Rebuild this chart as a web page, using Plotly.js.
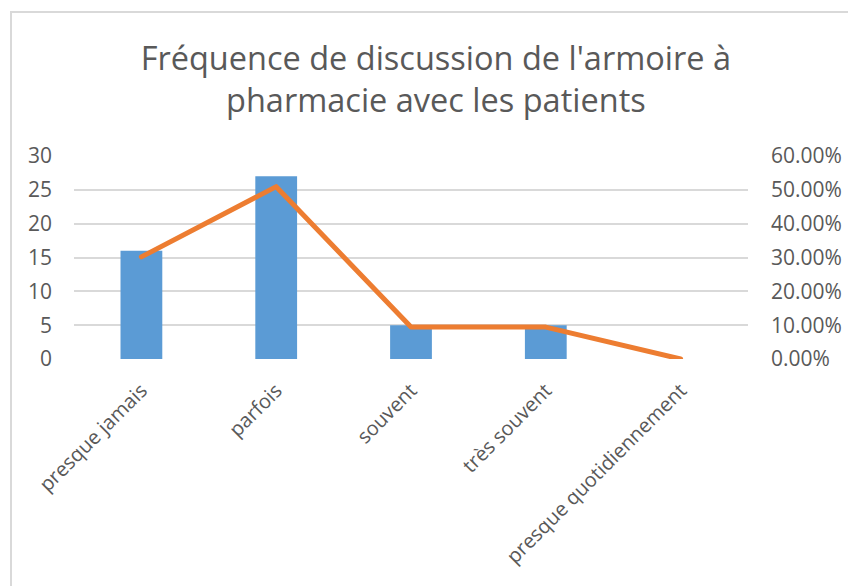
<!DOCTYPE html>
<html>
<head>
<meta charset="utf-8">
<script src="https://cdn.plot.ly/plotly-3.0.1.min.js"></script>
<style>
  html, body { margin: 0; padding: 0; background: #fff; overflow: hidden; }
  #chart { width: 848px; height: 586px; position: absolute; left: 0; top: 0; }
  #frame { position: absolute; left: 10px; top: 11px; width: 900px; height: 700px;
           border: 2px solid #d9d9d9; pointer-events: none; box-sizing: border-box; }
</style>
</head>
<body>
<div id="chart"></div>
<div id="frame"></div>
<script>
const categories = ["presque jamais", "parfois", "souvent", "très souvent", "presque quotidiennement"];
const counts = [16, 27, 5, 5, 0];
const percentages = [0.3019, 0.5094, 0.0943, 0.0943, 0.0];
const titleText = "Fréquence de discussion de l'armoire à<br>pharmacie avec les patients";

const textColor = "#595959";
const fontFamily = "'Open Sans', 'Noto Sans', sans-serif";

const data = [
  {
    type: "bar",
    x: categories,
    y: counts,
    marker: { color: "#5B9BD5" },
    yaxis: "y",
    hoverinfo: "x+y"
  },
  {
    type: "scatter",
    mode: "lines",
    x: categories,
    y: percentages,
    line: { color: "#ED7D31", width: 5 },
    yaxis: "y2"
  }
];

const layout = {
  width: 848,
  height: 586,
  paper_bgcolor: "#ffffff",
  plot_bgcolor: "#ffffff",
  showlegend: false,
  bargap: 0.69,
  margin: { l: 74, r: 100, t: 156, b: 227 },
  font: { family: fontFamily, color: textColor },
  title: {
    text: titleText,
    font: { family: fontFamily, size: 32.5, color: textColor },
    x: 0.514, xanchor: "center", xref: "container",
    y: 0.881, yanchor: "middle", yref: "container"
  },
  xaxis: {
    tickangle: -45,
    tickfont: { family: fontFamily, size: 20, color: textColor },
    showgrid: false,
    showline: false,
    zeroline: false,
    ticks: "",
    ticklabelstandoff: 15
  },
  yaxis: {
    range: [0, 30],
    dtick: 5,
    tickfont: { family: fontFamily, size: 21, color: textColor },
    showgrid: true,
    gridcolor: "#D9D9D9",
    gridwidth: 2,
    zeroline: false,
    showline: false,
    ticks: "",
    ticklabelstandoff: 21
  },
  yaxis2: {
    range: [0, 0.6],
    dtick: 0.1,
    tickformat: ".2%",
    overlaying: "y",
    side: "right",
    showgrid: false,
    zeroline: false,
    showline: false,
    ticks: "",
    ticklabelstandoff: 22,
    tickfont: { family: fontFamily, size: 21, color: textColor }
  }
};

Plotly.newPlot("chart", data, layout, { displayModeBar: false, staticPlot: true }).then(function () {
  document.querySelectorAll("#chart .scatterlayer path.js-line").forEach(function (p) {
    p.style.strokeLinejoin = "round";
    p.style.strokeLinecap = "round";
  });
});
</script>
</body>
</html>
